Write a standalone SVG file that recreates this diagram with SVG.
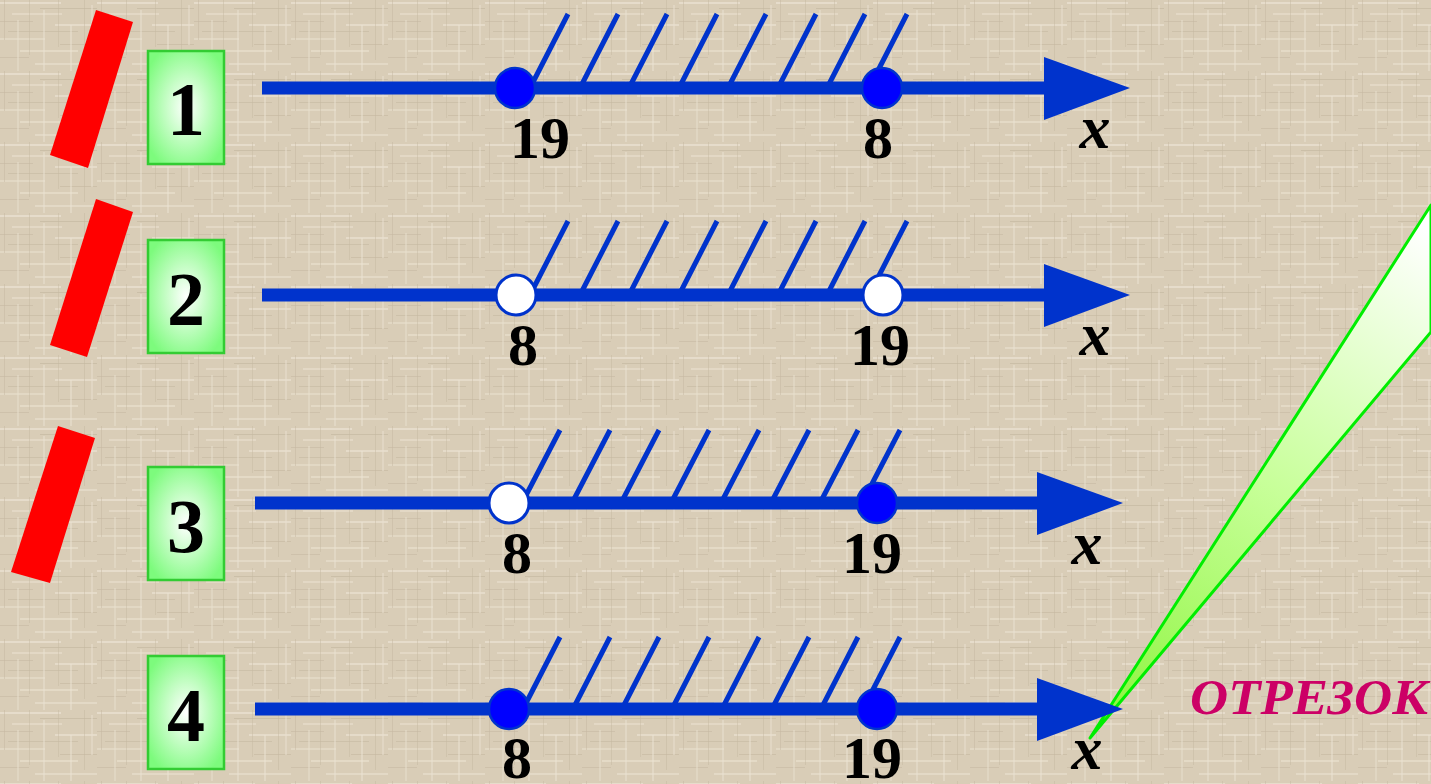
<svg xmlns="http://www.w3.org/2000/svg" width="1431" height="784" viewBox="0 0 1431 784">
<defs>
<pattern id="tex" width="97" height="71" patternUnits="userSpaceOnUse">
<rect width="97" height="71" fill="#d9cdb7"/>
<rect x="0" y="2" width="61" height="2" fill="#ebe3d3" opacity="0.7"/>
<rect x="40" y="8" width="57" height="1" fill="#c2b59e" opacity="0.6"/>
<rect x="12" y="13" width="50" height="2" fill="#e9e0cf" opacity="0.6"/>
<rect x="0" y="21" width="33" height="1" fill="#c6b9a3" opacity="0.6"/>
<rect x="55" y="24" width="42" height="2" fill="#ece4d5" opacity="0.6"/>
<rect x="8" y="31" width="70" height="1" fill="#c2b59e" opacity="0.5"/>
<rect x="0" y="38" width="45" height="2" fill="#e8dfcd" opacity="0.6"/>
<rect x="60" y="44" width="37" height="1" fill="#c4b7a0" opacity="0.6"/>
<rect x="20" y="50" width="58" height="2" fill="#ebe2d1" opacity="0.6"/>
<rect x="0" y="57" width="29" height="1" fill="#c3b69f" opacity="0.5"/>
<rect x="35" y="63" width="62" height="2" fill="#e9e1d0" opacity="0.6"/>
<rect x="4" y="0" width="1" height="40" fill="#c5b8a1" opacity="0.5"/>
<rect x="17" y="20" width="2" height="51" fill="#e8dfce" opacity="0.5"/>
<rect x="29" y="0" width="1" height="55" fill="#c4b7a0" opacity="0.45"/>
<rect x="43" y="10" width="2" height="61" fill="#eae2d2" opacity="0.5"/>
<rect x="58" y="0" width="1" height="47" fill="#c6b9a2" opacity="0.45"/>
<rect x="70" y="25" width="2" height="46" fill="#ebe3d3" opacity="0.5"/>
<rect x="84" y="0" width="1" height="60" fill="#c3b6a0" opacity="0.45"/>
<rect x="91" y="5" width="2" height="40" fill="#e9e0cf" opacity="0.5"/>
</pattern>
<radialGradient id="boxg" cx="0.5" cy="0.5" r="0.6">
<stop offset="0" stop-color="#ffffff"/>
<stop offset="1" stop-color="#7dfb7d"/>
</radialGradient>
<linearGradient id="beamg" x1="1100" y1="730" x2="1431" y2="230" gradientUnits="userSpaceOnUse">
<stop offset="0" stop-color="#8cf43c"/>
<stop offset="0.5" stop-color="#c8ff9a"/>
<stop offset="1" stop-color="#ffffff"/>
</linearGradient>
<style>
.ax{stroke:#0033cc;stroke-width:13;fill:none}
.ht{stroke:#0033cc;stroke-width:5;fill:none}
.hd{fill:#0033cc}
.dotf{fill:#0000ff;stroke:#0033cc;stroke-width:2.5}
.doto{fill:#ffffff;stroke:#0033cc;stroke-width:3}
.num{font-family:"Liberation Serif","Times New Roman",serif;font-weight:bold;font-size:60px;fill:#000;text-anchor:middle}
.var{font-family:"Liberation Serif","Times New Roman",serif;font-weight:bold;font-style:italic;font-size:62px;fill:#000;text-anchor:middle}
.box{fill:url(#boxg);stroke:#33cc33;stroke-width:2.5}
.bn{font-family:"Liberation Serif","Times New Roman",serif;font-weight:bold;font-size:76px;fill:#000;text-anchor:middle}
.bar{fill:#ff0000}
</style>
</defs>
<rect width="1431" height="784" fill="url(#tex)"/>

<g id="bar1"><polygon class="bar" points="96,10 133,22 88,168 50,155"/></g>
<g id="bar2"><polygon class="bar" points="96,199 133,212 87,357 50,345"/></g>
<g id="bar3"><polygon class="bar" points="58,426 95,438 50,583 11,572"/></g>

<g id="box1"><rect class="box" x="148" y="51" width="76" height="113"/><text class="bn" x="186" y="135">1</text></g>
<g id="box2"><rect class="box" x="148" y="240" width="76" height="113"/><text class="bn" x="186" y="325">2</text></g>
<g id="box3"><rect class="box" x="148" y="467" width="76" height="113"/><text class="bn" x="186" y="552">3</text></g>
<g id="box4"><rect class="box" x="148" y="656" width="76" height="113"/><text class="bn" x="186" y="741">4</text></g>

<g id="beam">
<polygon points="1090,738 1431,205 1431,332" fill="url(#beamg)" stroke="#00ee00" stroke-width="3" stroke-linejoin="round"/>
</g>

<g id="connectors">
<g id="axis1">
<path class="ht" d="M530,88 L568,14 M580,88 L618,14 M629,88 L667,14 M679,88 L717,14 M728,88 L766,14 M778,88 L816,14 M827,88 L865,14 M869,88 L907,14"/>
<line class="ax" x1="262" y1="88" x2="1060" y2="88"/>
<polygon class="hd" points="1044,57 1130,88 1044,120"/>
<circle class="dotf" cx="515" cy="88" r="20"/>
<circle class="dotf" cx="882" cy="88" r="20"/>
</g>
<g id="axis2">
<path class="ht" d="M530,295 L568,221 M580,295 L618,221 M629,295 L667,221 M679,295 L717,221 M728,295 L766,221 M778,295 L816,221 M827,295 L865,221 M869,295 L907,221"/>
<line class="ax" x1="262" y1="295" x2="1060" y2="295"/>
<polygon class="hd" points="1044,264 1130,295 1044,327"/>
<circle class="doto" cx="516" cy="295" r="20"/>
<circle class="doto" cx="883" cy="295" r="20"/>
</g>
<g id="axis3">
<path class="ht" d="M522,503 L560,430 M572,503 L610,430 M621,503 L659,430 M671,503 L709,430 M721,503 L759,430 M771,503 L809,430 M820,503 L858,430 M862,503 L900,430"/>
<line class="ax" x1="255" y1="503" x2="1050" y2="503"/>
<polygon class="hd" points="1037,472 1123,503 1037,535"/>
<circle class="doto" cx="509" cy="503" r="20"/>
<circle class="dotf" cx="877" cy="503" r="20"/>
</g>
<g id="axis4">
<path class="ht" d="M523,709 L560,637 M573,709 L610,637 M622,709 L659,637 M672,709 L709,637 M722,709 L759,637 M772,709 L809,637 M821,709 L858,637 M863,709 L900,637"/>
<line class="ax" x1="255" y1="709" x2="1050" y2="709"/>
<polygon class="hd" points="1037,678 1123,709 1037,741"/>
<circle class="dotf" cx="509" cy="709" r="20"/>
<circle class="dotf" cx="877" cy="709" r="20"/>
</g>
</g>

<g id="labels">
<text class="num" x="540" y="158">19</text>
<text class="num" x="878" y="158">8</text>
<text class="var" x="1095" y="148">x</text>
<text class="num" x="523" y="365">8</text>
<text class="num" x="880" y="365">19</text>
<text class="var" x="1095" y="355">x</text>
<text class="num" x="517" y="573">8</text>
<text class="num" x="872" y="573">19</text>
<text class="var" x="1087" y="564">x</text>
<text class="num" x="517" y="778">8</text>
<text class="num" x="872" y="778">19</text>
<text class="var" x="1087" y="769">x</text>
</g>

<g id="caption">
<text x="1190" y="714" font-family="'Liberation Serif','Times New Roman',serif" font-weight="bold" font-style="italic" font-size="50" fill="#cc0066" textLength="238" lengthAdjust="spacingAndGlyphs">ОТРЕЗОК</text>
</g>
</svg>
